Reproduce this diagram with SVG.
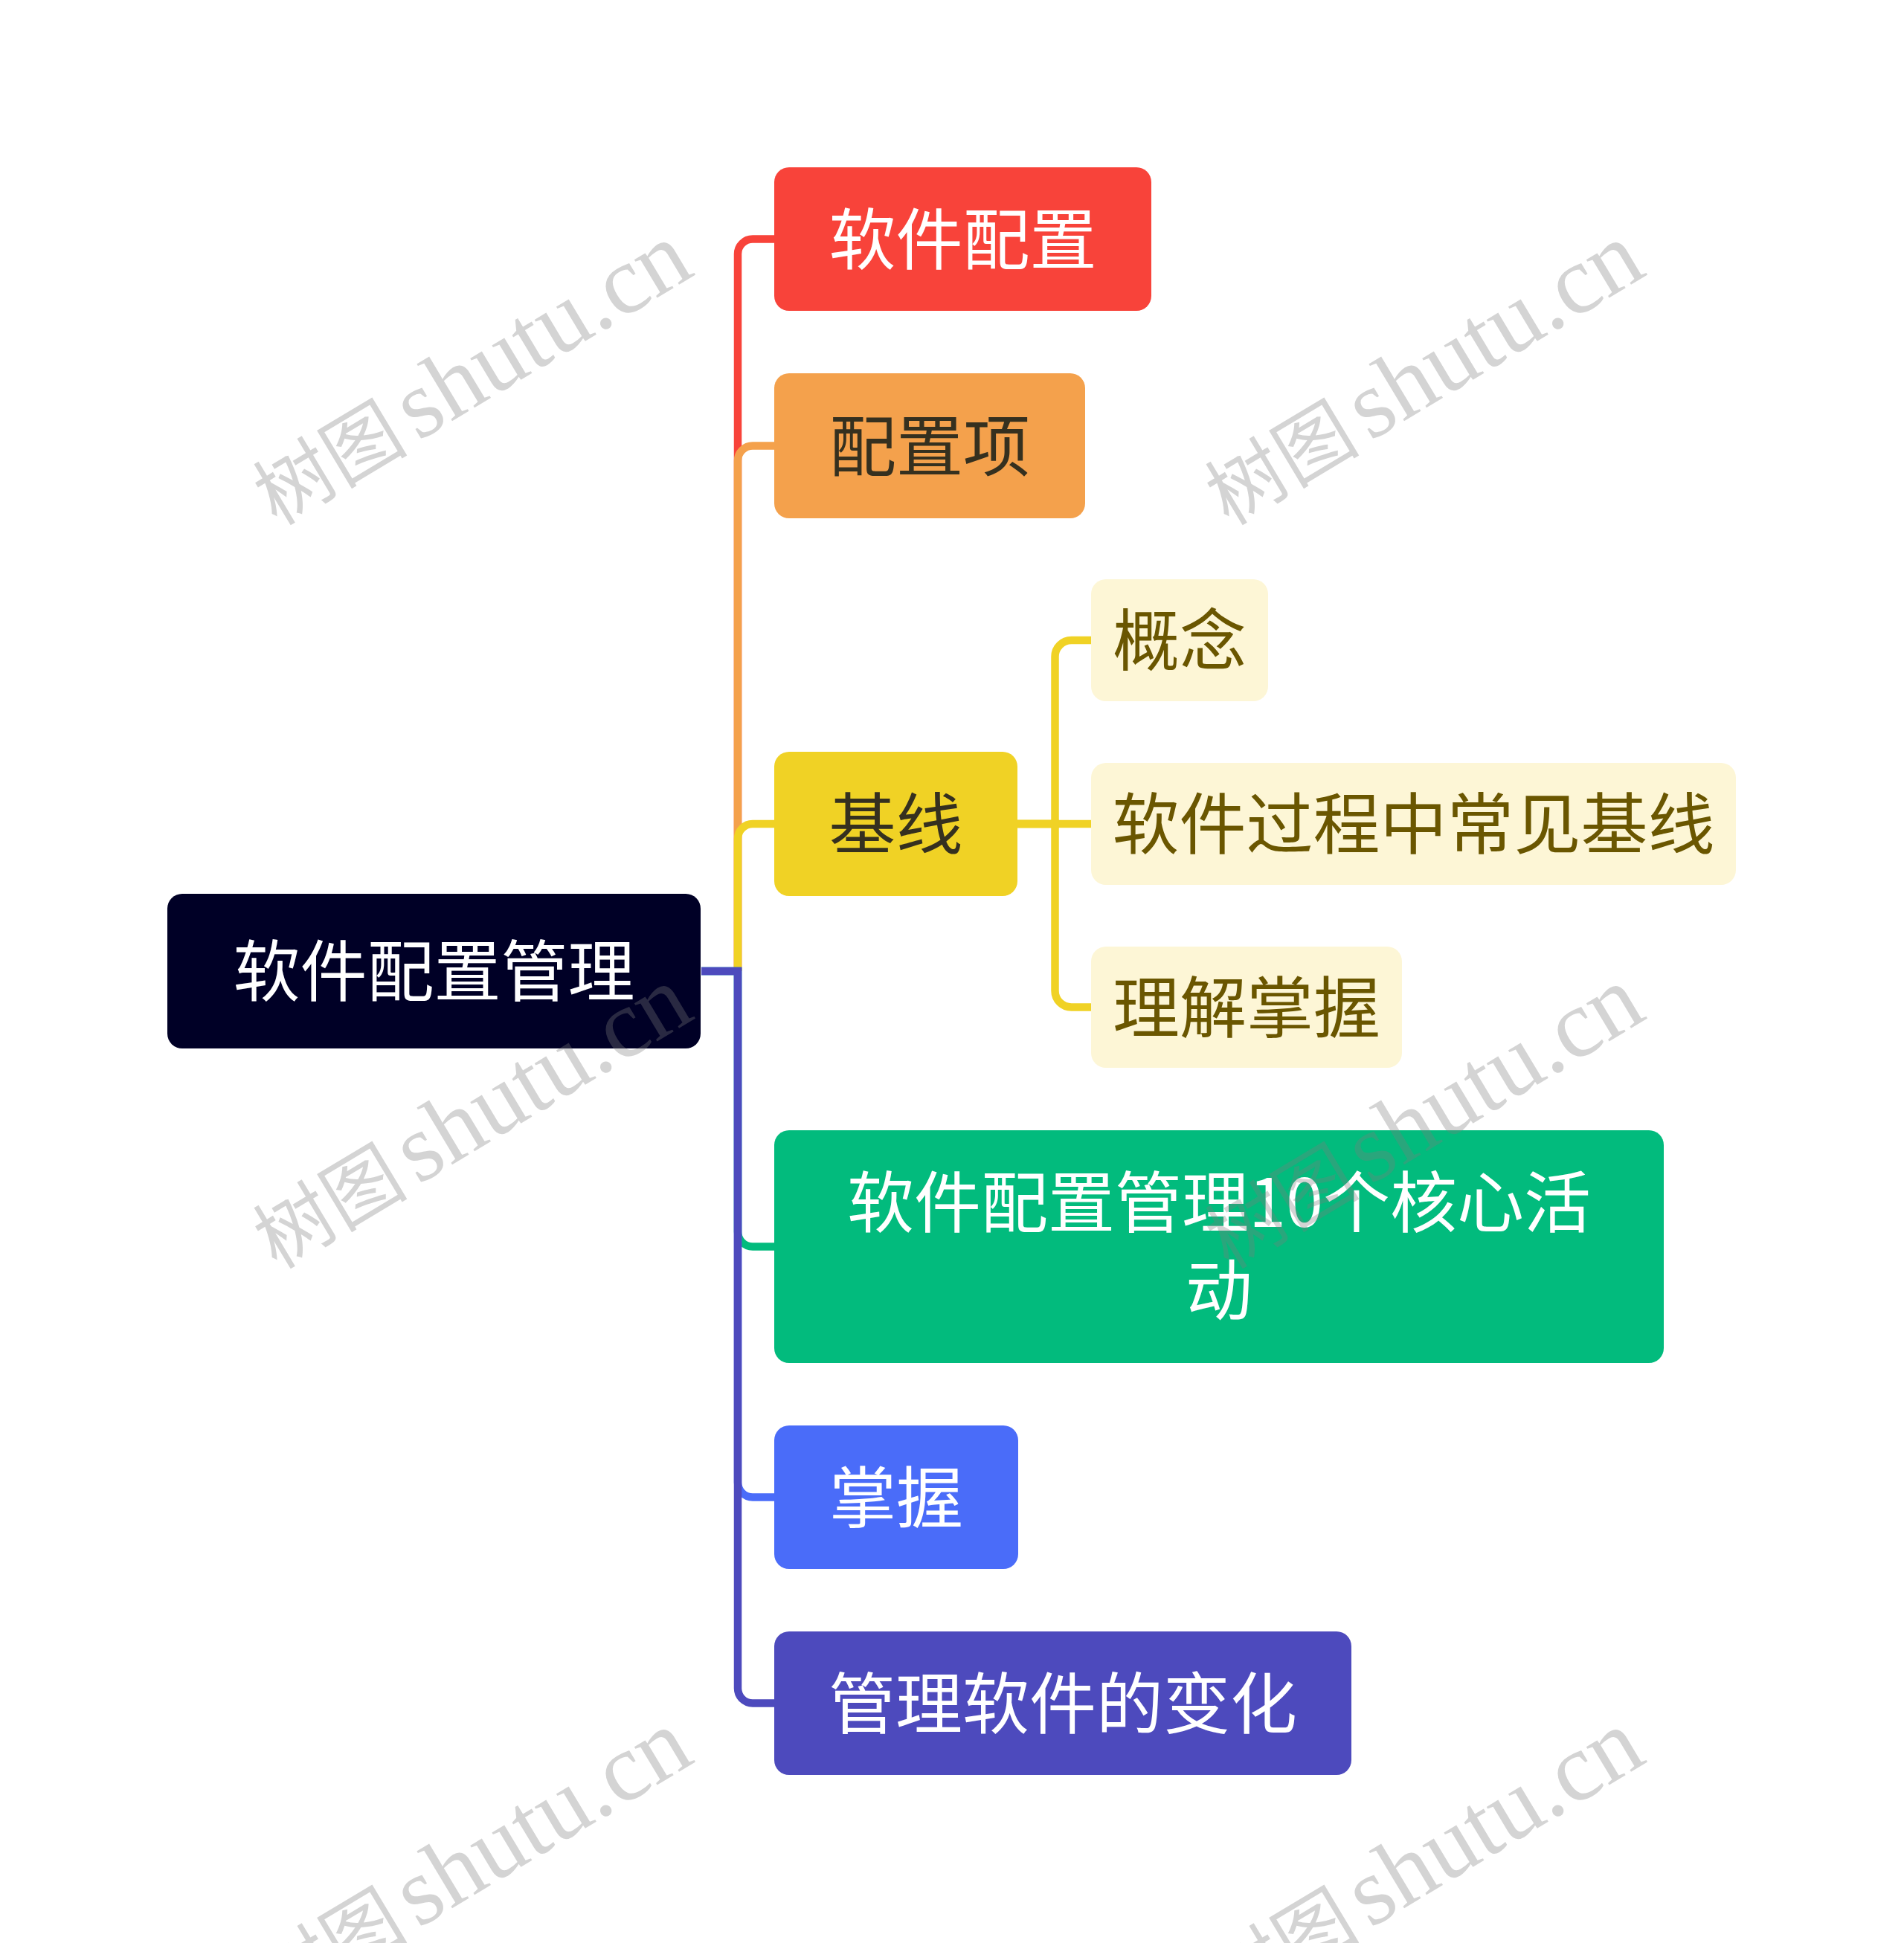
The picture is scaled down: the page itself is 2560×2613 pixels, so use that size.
<svg xmlns="http://www.w3.org/2000/svg" width="2560" height="2613" viewBox="0 0 2560 2613">
<style>
.t{font-family:"Noto Sans CJK SC","Noto Sans",sans-serif;font-size:90px;text-anchor:middle}
.w{fill:#ffffff}
.d{fill:#35301f}
.o{fill:#6a5600}
.c{fill:none;stroke-width:10.5;stroke-linejoin:miter}
.wm{font-family:"Liberation Serif","Noto Sans CJK SC",serif;fill:#7b7b7b;fill-opacity:0.33}
</style>
<rect width="2560" height="2613" fill="#ffffff"/>
<g id="connectors">
<path class="c" stroke="#f8433a" d="M992,1306 V341.5 A20,20 0 0 1 1012,321.5 H1043"/>
<path class="c" stroke="#f4a14c" d="M992,1306 V619.5 A20,20 0 0 1 1012,599.5 H1043"/>
<path class="c" stroke="#f0d225" d="M992,1306 V1128 A20,20 0 0 1 1012,1108 H1043"/>
<path class="c" stroke="#02bb7d" d="M943,1306 H992 V1656.5 A20,20 0 0 0 1012,1676.5 H1043"/>
<path class="c" stroke="#4a6cf9" d="M943,1306 H992 V1993.5 A20,20 0 0 0 1012,2013.5 H1043"/>
<path class="c" stroke="#4d4abd" d="M943,1306 H992 V2270.5 A20,20 0 0 0 1012,2290.5 H1043"/>
<path class="c" stroke="#f0d225" d="M1367,1108 H1418.5 V883 A22,22 0 0 1 1440.5,861 H1469"/>
<path class="c" stroke="#f0d225" d="M1367,1108 H1469"/>
<path class="c" stroke="#f0d225" d="M1367,1108 H1418.5 V1332.5 A22,22 0 0 0 1440.5,1354.5 H1469"/>
</g>
<g id="root">
<rect x="225" y="1202" width="717" height="208" rx="20" fill="#000026"/>
<text class="t w" x="583.5" y="1339">软件配置管理</text>
</g>
<g id="n-config">
<rect x="1041" y="225" width="507" height="193" rx="20" fill="#f8433a"/>
<text class="t w" x="1294.5" y="354.5">软件配置</text>
</g>
<g id="n-item">
<rect x="1041" y="502" width="418" height="195" rx="20" fill="#f4a14c"/>
<text class="t d" x="1250" y="632.5">配置项</text>
</g>
<g id="n-baseline">
<rect x="1041" y="1011" width="327" height="194" rx="20" fill="#f0d225"/>
<text class="t d" x="1204.5" y="1141">基线</text>
</g>
<g id="n-concept">
<rect x="1467" y="779" width="238" height="164" rx="20" fill="#fdf6d6"/>
<text class="t o" x="1586" y="894">概念</text>
</g>
<g id="n-common">
<rect x="1467" y="1026" width="867" height="164" rx="20" fill="#fdf6d6"/>
<text class="t o" x="1900.5" y="1141">软件过程中常见基线</text>
</g>
<g id="n-understand">
<rect x="1467" y="1273" width="418" height="163" rx="20" fill="#fdf6d6"/>
<text class="t o" x="1676" y="1387.5">理解掌握</text>
</g>
<g id="n-activities">
<rect x="1041" y="1520" width="1196" height="313" rx="20" fill="#02bb7d"/>
<text class="t w" x="1639" y="1650">软件配置管理10个核心活</text>
<text class="t w" x="1639" y="1768">动</text>
</g>
<g id="n-master">
<rect x="1041" y="1917" width="328" height="193" rx="20" fill="#4a6cf9"/>
<text class="t w" x="1205" y="2046.5">掌握</text>
</g>
<g id="n-change">
<rect x="1041" y="2194" width="776" height="193" rx="20" fill="#4d4abd"/>
<text class="t w" x="1429" y="2323.5">管理软件的变化</text>
</g>
<g id="watermarks">
<text class="wm" transform="translate(372,708) rotate(-31)"><tspan font-size="104">树图</tspan><tspan font-size="130" dx="14">shutu.cn</tspan></text>
<text class="wm" transform="translate(1652,708) rotate(-31)"><tspan font-size="104">树图</tspan><tspan font-size="130" dx="14">shutu.cn</tspan></text>
<text class="wm" transform="translate(372,1708) rotate(-31)"><tspan font-size="104">树图</tspan><tspan font-size="130" dx="14">shutu.cn</tspan></text>
<text class="wm" transform="translate(1652,1708) rotate(-31)"><tspan font-size="104">树图</tspan><tspan font-size="130" dx="14">shutu.cn</tspan></text>
<text class="wm" transform="translate(372,2708) rotate(-31)"><tspan font-size="104">树图</tspan><tspan font-size="130" dx="14">shutu.cn</tspan></text>
<text class="wm" transform="translate(1652,2708) rotate(-31)"><tspan font-size="104">树图</tspan><tspan font-size="130" dx="14">shutu.cn</tspan></text>
</g>
</svg>
